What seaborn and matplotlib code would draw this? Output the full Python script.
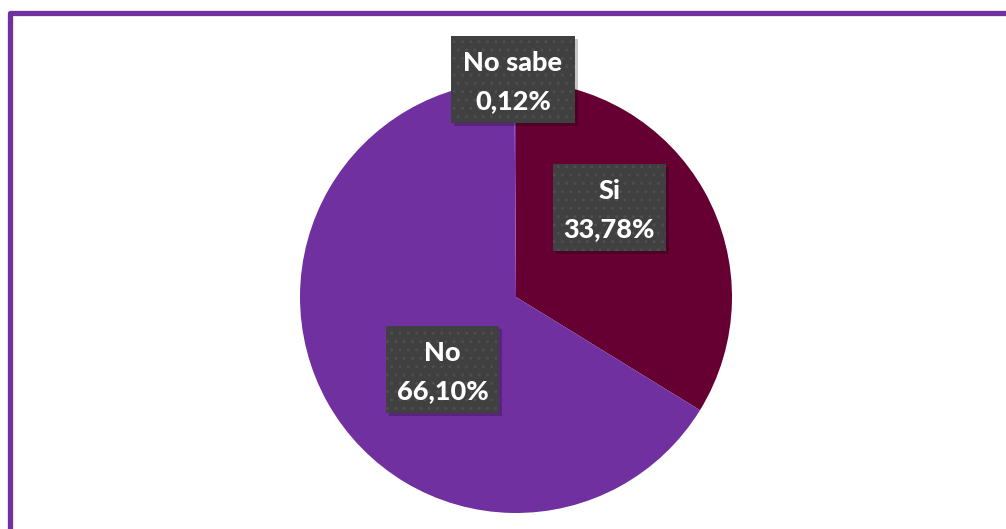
import matplotlib.pyplot as plt
import seaborn as sns
from matplotlib.patches import Rectangle

categories = ["Si", "No", "No sabe"]
shares = [33.78, 66.10, 0.12]
slice_colors = ["#660033", "#7030A0", "#7030A0"]

sns.set_theme(style="white")
plt.rcParams['font.family'] = ['Lato', 'DejaVu Sans']

W, H = 1006, 529
fig = plt.figure(figsize=(W / 100, H / 100), dpi=100)
ax = fig.add_axes([0, 0, 1, 1])

ax.pie(shares, colors=slice_colors, startangle=90, counterclock=False,
       center=(516, H - 297), radius=216,
       wedgeprops=dict(linewidth=0, edgecolor="none"))
ax.set_xlim(0, W)
ax.set_ylim(0, H)
ax.set_aspect("auto")
ax.axis("off")

# label boxes: left, top, right, bottom in pixels from top-left
label_box = {"Si": (553, 164, 666, 251),
             "No": (386, 326, 499, 413),
             "No sabe": (451, 36, 575, 123)}

for cat, val in zip(categories, shares):
    x0, y0, x1, y1 = label_box[cat]
    # shadow
    ax.add_patch(Rectangle((x0 + 3, H - y1 - 3), x1 - x0, y1 - y0,
                           facecolor="#000000", edgecolor="none", alpha=0.22, zorder=3))
    ax.add_patch(Rectangle((x0, H - y1), x1 - x0, y1 - y0, facecolor="#404040",
                           edgecolor="#4e4e4e", linewidth=0, hatch="..", zorder=4))
    xc = (x0 + x1) / 2
    ax.text(xc, H - (y0 + 35), cat, ha="center", va="baseline", fontsize=19.5,
            fontweight="black", color="white", zorder=5)
    ax.text(xc, H - (y0 + 73), f"{val:.2f}%".replace(".", ","), ha="center",
            va="baseline", fontsize=19.5, fontweight="black", color="white", zorder=5)

# purple frame, cut at right and bottom
fig.patches.append(Rectangle((9.5 / W, -0.05), 1.2, (H - 12.5) / H + 0.05,
                             transform=fig.transFigure, fill=False,
                             edgecolor="#7030A0", linewidth=3.8,
                             joinstyle="round"))

fig.savefig("out.png", dpi=100)
